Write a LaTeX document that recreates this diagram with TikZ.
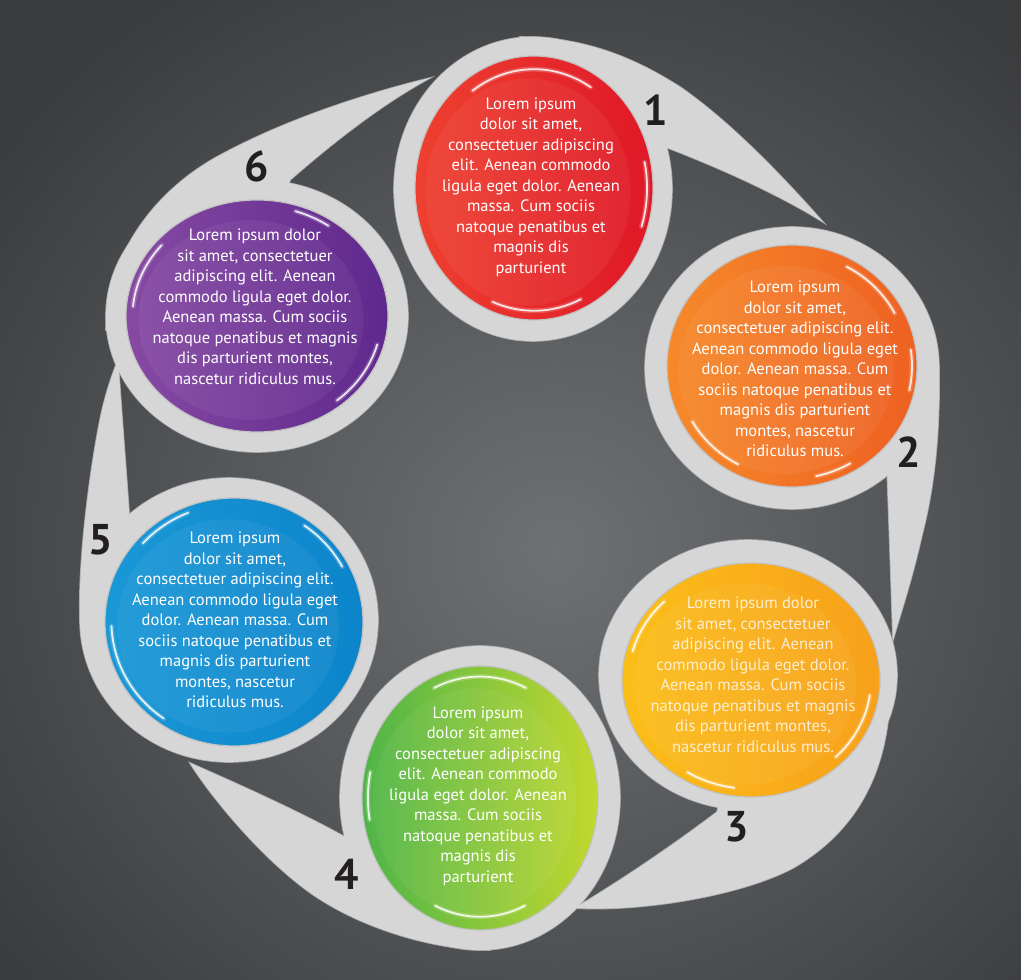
\documentclass[tikz,border=0pt]{standalone}
\usepackage{fontspec}
\setmainfont{PT Sans}
\definecolor{bgin}{HTML}{6E7174}
\definecolor{bgout}{HTML}{393B3D}
\definecolor{ringc}{HTML}{D6D6D6}
\definecolor{ringedge}{HTML}{A9A9A9}
\definecolor{discedge}{HTML}{C2C2C2}
\definecolor{numc}{HTML}{231F20}
\definecolor{redL}{HTML}{EE4030}\definecolor{redR}{HTML}{DF1827}
\definecolor{orL}{HTML}{F6892A}\definecolor{orR}{HTML}{EE6022}
\definecolor{yeL}{HTML}{FBBE18}\definecolor{yeM}{HTML}{FDDB27}\definecolor{yeR}{HTML}{F7A01B}
\definecolor{grL}{HTML}{4FB548}\definecolor{grR}{HTML}{C1D82F}
\definecolor{blL}{HTML}{1A98D6}\definecolor{blM}{HTML}{26AEE4}\definecolor{blR}{HTML}{0C84CB}
\definecolor{puL}{HTML}{864AA3}\definecolor{puR}{HTML}{5F288D}
\tikzset{
  ringline/.style={draw=ringedge, line width=1.6},
  ringfill/.style={fill=ringc},
  gloss/.style={draw=white, line width=1.8, line cap=round, opacity=0.85},
  glow/.style={draw=white, line width=5, line cap=round, opacity=0.18},
  txt/.style={align=center, text=white, inner sep=0pt, font=\fontsize{16.5}{20.5}\selectfont},
  num/.style={text=numc, inner sep=0pt, font=\fontsize{43}{43}\selectfont\bfseries},
  tailone/.style={insert path={(520,37) .. controls (580,37) and (630,55) .. (680,87) .. controls (735,125) and (790,185) .. (823,222) .. controls (780,195) and (720,168) .. (668,148) -- (533,189) -- cycle}},
  tailtwo/.style={insert path={(939,368) .. controls (940,430) and (935,485) .. (922,535) .. controls (912,580) and (900,615) .. (893,640) .. controls (891,580) and (889,520) .. (887,468) -- (792,368) -- cycle}},
  tailthree/.style={insert path={(888,721) .. controls (880,785) and (850,835) .. (793,868) .. controls (740,896) and (640,912) .. (575,908) .. controls (630,875) and (680,840) .. (717,812) -- (748,675) -- cycle}},
  tailfour/.style={insert path={(490,950) .. controls (430,950) and (350,925) .. (300,885) .. controls (255,850) and (210,795) .. (190,763) .. controls (240,785) and (300,812) .. (345,837) -- (480,798) -- cycle}},
  tailfive/.style={insert path={(80,620) .. controls (78,560) and (90,470) .. (100,420) .. controls (105,395) and (112,375) .. (118,360) .. controls (122,420) and (127,480) .. (130,527) -- (229,620) -- cycle}},
  tailsix/.style={insert path={(106,330) .. controls (106,260) and (150,195) .. (215,158) .. controls (280,122) and (360,95) .. (430,78) .. controls (380,105) and (330,145) .. (290,180) -- (257,316) -- cycle}},
}
\begin{document}
\begin{tikzpicture}[x=1pt,y=-1pt]
\useasboundingbox (0,0) rectangle (1021,980);
% background
\shade[inner color=bgin, outer color=bgout] (-150,-130) rectangle (1260,1230);

% ring outlines (drawn first, covered by fills)
\foreach \cx/\cy/\rx/\ry in {533/189/139/152, 792/368/147/141, 748/675/149/135, 480/798/140/152, 229/620/149/142, 257/316/151/136}{
  \path[ringline] (\cx,\cy) ellipse [x radius=\rx, y radius=\ry];
}
\path[ringline, tailone];
\path[ringline, tailtwo];
\path[ringline, tailthree];
\path[ringline, tailfour];
\path[ringline, tailfive];
\path[ringline, tailsix];

% ring fills
\foreach \cx/\cy/\rx/\ry in {533/189/139/152, 792/368/147/141, 748/675/149/135, 480/798/140/152, 229/620/149/142, 257/316/151/136}{
  \path[ringfill] (\cx,\cy) ellipse [x radius=\rx, y radius=\ry];
}
\path[ringfill, tailone];
\path[ringfill, tailtwo];
\path[ringfill, tailthree];
\path[ringfill, tailfour];
\path[ringfill, tailfive];
\path[ringfill, tailsix];

% discs
\shade[left color=redL, right color=redR] (534,188) ellipse [x radius=119, y radius=132];
\shade[left color=orL, right color=orR] (792,366) ellipse [x radius=125, y radius=121];
\shade[left color=yeL, middle color=yeM, right color=yeR] (751,680) ellipse [x radius=129, y radius=117];
\shade[left color=grL, right color=grR] (480,798) ellipse [x radius=118, y radius=132];
\shade[left color=blL, middle color=blM, right color=blR] (234,622) ellipse [x radius=129, y radius=124];
\shade[left color=puL, right color=puR] (257,316) ellipse [x radius=131, y radius=116];

% subtle inner lighter areas and disc edges
\foreach \cx/\cy/\rx/\ry in {534/188/119/132, 792/366/125/121, 751/680/129/117, 480/798/118/132, 234/622/129/124, 257/316/131/116}{
  \fill[white, opacity=0.05] (\cx-6,\cy+4) ellipse [x radius=0.86*\rx, y radius=0.86*\ry];
  \draw[draw=discedge, line width=1.2] (\cx,\cy) ellipse [x radius=\rx, y radius=\ry];
}

% gloss highlights: cx/cy/rx/ry/t1/t2/scale
\foreach \cx/\cy/\rx/\ry/\ta/\tb/\s in {
  534/188/119/132/-125/-58/0.9, 534/188/119/132/65/112/0.93, 534/188/119/132/-12/18/0.95,
  792/366/125/121/-62/-28/0.93, 792/366/125/121/-8/12/0.96, 792/366/125/121/118/150/0.92, 792/366/125/121/60/78/0.93,
  751/680/129/117/-165/-135/0.95, 751/680/129/117/8/45/0.93, 751/680/129/117/98/122/0.93,
  480/798/118/132/-115/-65/0.92, 480/798/118/132/65/115/0.9, 480/798/118/132/170/192/0.95,
  234/622/129/124/-138/-112/0.95, 234/622/129/124/-55/-28/0.95, 234/622/129/124/125/178/0.95,
  257/316/131/116/-72/-55/0.95, 257/316/131/116/-175/-140/0.95, 257/316/131/116/15/50/0.95}{
  \pgfmathsetmacro\grx{\s*\rx}
  \pgfmathsetmacro\gry{\s*\ry}
  \pgfmathsetmacro\gpx{\cx+\grx*cos(\ta)}
  \pgfmathsetmacro\gpy{\cy+\gry*sin(\ta)}
  \draw[glow] (\gpx,\gpy) arc [start angle=\ta, end angle=\tb, x radius=\grx, y radius=\gry];
  \draw[gloss] (\gpx,\gpy) arc [start angle=\ta, end angle=\tb, x radius=\grx, y radius=\gry];
}

% texts
\node[txt] (t1) at (531,187) {Lorem ipsum\\dolor sit amet,\\consectetuer adipiscing\\elit. Aenean commodo\\ligula eget dolor. Aenean\\massa. Cum sociis\\natoque penatibus et\\magnis dis\\parturient};
\node[txt] (t2) at (795,369) {Lorem ipsum\\dolor sit amet,\\consectetuer adipiscing elit.\\Aenean commodo ligula eget\\dolor. Aenean massa. Cum\\sociis natoque penatibus et\\magnis dis parturient\\montes, nascetur\\ridiculus mus.};
\node[txt, text opacity=0.78] (t3) at (753,675) {Lorem ipsum dolor\\sit amet, consectetuer\\adipiscing elit. Aenean\\commodo ligula eget dolor.\\Aenean massa. Cum sociis\\natoque penatibus et magnis\\dis parturient montes,\\nascetur ridiculus mus.};
\node[txt] (t4) at (478,796) {Lorem ipsum\\dolor sit amet,\\consectetuer adipiscing\\elit. Aenean commodo\\ligula eget dolor. Aenean\\massa. Cum sociis\\natoque penatibus et\\magnis dis\\parturient};
\node[txt] (t5) at (235,620) {Lorem ipsum\\dolor sit amet,\\consectetuer adipiscing elit.\\Aenean commodo ligula eget\\dolor. Aenean massa. Cum\\sociis natoque penatibus et\\magnis dis parturient\\montes, nascetur\\ridiculus mus.};
\node[txt] (t6) at (255,307) {Lorem ipsum dolor\\sit amet, consectetuer\\adipiscing elit. Aenean\\commodo ligula eget dolor.\\Aenean massa. Cum sociis\\natoque penatibus et magnis\\dis parturient montes,\\nascetur ridiculus mus.};

% numbers
\node[num] (n1) at (656,110) {1};
\node[num] (n2) at (909,452) {2};
\node[num] (n3) at (737,827) {3};
\node[num] (n4) at (347,874) {4};
\node[num] (n5) at (101,540) {5};
\node[num] (n6) at (257,166) {6};
\end{tikzpicture}
\end{document}
